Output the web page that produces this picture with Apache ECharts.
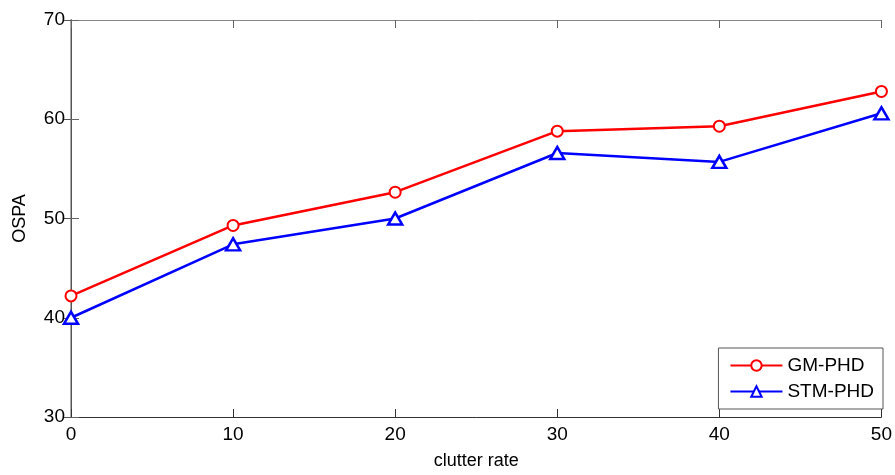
<!DOCTYPE html>
<html>
<head>
<meta charset="utf-8">
<script src="https://cdn.jsdelivr.net/npm/echarts@6/dist/echarts.min.js"></script>
<style>
  html, body { margin: 0; padding: 0; background: #fff; }
  #chart { width: 895px; height: 475px; }
</style>
</head>
<body>
<div id="chart"></div>
<script>
// Clutter rates on the x axis
const clutterRates = [0, 10, 20, 30, 40, 50];
// OSPA values for each filter
const gmPhd = [42.2, 49.3, 52.65, 58.8, 59.3, 62.8];
const stmPhd = [40.0, 47.4, 50.0, 56.6, 55.7, 60.6];
const xTicks = [0, 10, 20, 30, 40, 50];
const yTicks = [30, 40, 50, 60, 70];

const FONT = 'Liberation Sans, Arial, sans-serif';

function pairs(xs, ys) {
  return xs.map((x, i) => [x, ys[i]]);
}

const chart = echarts.init(document.getElementById('chart'), null, { renderer: 'canvas' });

const baseLabel = { color: '#000', fontFamily: FONT, fontSize: 19 };

chart.setOption({
  animation: false,
  backgroundColor: '#fff',
  grid: { left: 71, right: 12, top: 20, bottom: 53, containLabel: false },
  legend: {
    right: 12,
    top: 348,
    orient: 'vertical',
    backgroundColor: '#fff',
    borderColor: '#555',
    borderWidth: 1,
    borderRadius: 0,
    padding: [8, 9, 8, 11],
    itemGap: 7,
    itemWidth: 52,
    itemHeight: 13,
    textStyle: { color: '#000', fontFamily: FONT, fontSize: 19 },
    data: ['GM-PHD', 'STM-PHD']
  },
  xAxis: [
    {
      type: 'value',
      min: 0, max: 50, interval: 10,
      name: 'clutter rate',
      nameLocation: 'middle',
      nameGap: 35,
      nameTextStyle: { color: '#000', fontFamily: FONT, fontSize: 18 },
      axisLine: { show: true, lineStyle: { color: '#333', width: 1 } },
      axisTick: { show: true, inside: true, length: 8, lineStyle: { color: '#333' } },
      axisLabel: Object.assign({ margin: 8 }, baseLabel),
      splitLine: { show: false }
    },
    {
      type: 'value',
      position: 'top',
      min: 0, max: 50, interval: 10,
      axisLine: { show: true, lineStyle: { color: '#888', width: 1 } },
      axisTick: { show: true, inside: true, length: 8, lineStyle: { color: '#666' } },
      axisLabel: { show: false },
      splitLine: { show: false }
    }
  ],
  yAxis: [
    {
      type: 'value',
      min: 30, max: 70, interval: 10,
      name: 'OSPA',
      nameLocation: 'middle',
      nameGap: 42,
      nameTextStyle: { color: '#000', fontFamily: FONT, fontSize: 18 },
      axisLine: { show: true, lineStyle: { color: '#aaa', width: 2 } },
      axisTick: { show: true, inside: true, length: 8, lineStyle: { color: '#666' } },
      axisLabel: Object.assign({ margin: 6 }, baseLabel),
      splitLine: { show: false }
    },
    {
      type: 'value',
      position: 'right',
      min: 30, max: 70, interval: 10,
      axisLine: { show: true, lineStyle: { color: '#555', width: 1 } },
      axisTick: { show: true, inside: true, length: 8, lineStyle: { color: '#555' } },
      axisLabel: { show: false },
      splitLine: { show: false }
    }
  ],
  series: [
    {
      name: 'GM-PHD',
      type: 'line',
      data: pairs(clutterRates, gmPhd),
      color: '#ff0000',
      lineStyle: { color: '#ff0000', width: 2.5 },
      symbol: 'emptyCircle',
      symbolSize: 11,
      itemStyle: { color: '#ff0000', borderColor: '#ff0000', borderWidth: 2.5 },
      z: 3
    },
    {
      name: 'STM-PHD',
      type: 'line',
      data: pairs(clutterRates, stmPhd),
      color: '#0000ff',
      lineStyle: { color: '#0000ff', width: 2.5 },
      symbol: 'path://M0,-10 L10,8 L-10,8 Z',
      symbolSize: [14, 12],
      itemStyle: { color: '#fff', borderColor: '#0000ff', borderWidth: 2.5 },
      z: 3
    }
  ]
});
</script>
</body>
</html>
